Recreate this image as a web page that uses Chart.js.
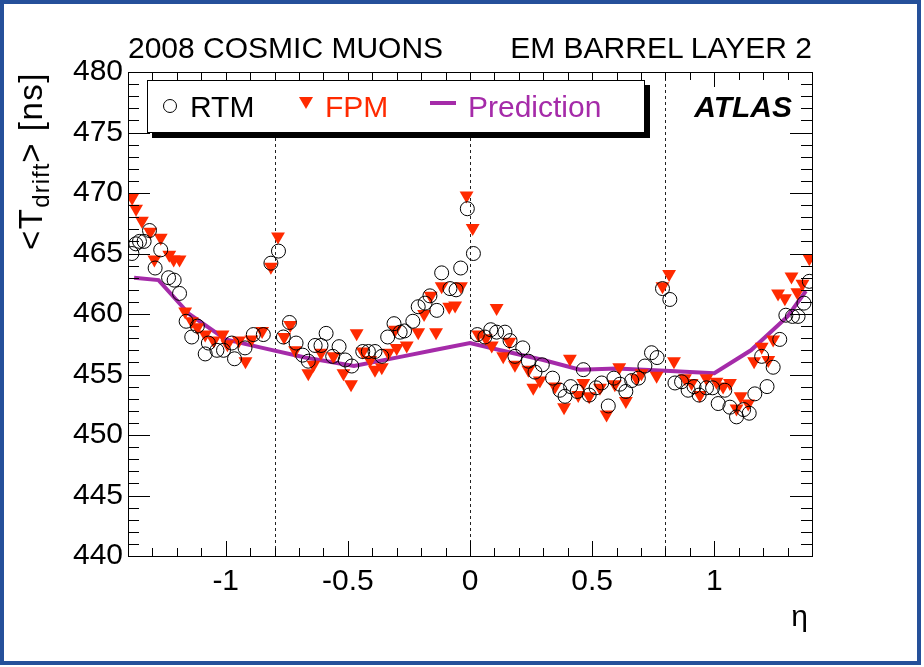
<!DOCTYPE html>
<html>
<head>
<meta charset="utf-8">
<script src="https://cdn.jsdelivr.net/npm/chart.js@4.4.1/dist/chart.umd.min.js"></script>
<style>
  html, body { margin: 0; padding: 0; background: #fff; }
  body { width: 924px; height: 667px; position: relative; overflow: hidden;
         font-family: "Liberation Sans", Arial, sans-serif; }
  #frame { position: absolute; left: 0; top: 0; width: 913px; height: 657px;
           border: 4px solid #25509a; }
  #c { position: absolute; left: 0; top: 0; }
  .txt { position: absolute; font-size: 30px; line-height: 30px; white-space: nowrap; color: #000; }
  #legend { position: absolute; left: 147px; top: 80px; width: 496px; height: 51px;
            border: 1px solid #000; background: #fff; box-shadow: 5px 5px 0 #000; }
  .mk-circle { position: absolute; width: 12px; height: 12px; border: 1px solid #000; border-radius: 50%; }
  .mk-tri { position: absolute; width: 0; height: 0; border-left: 7px solid transparent;
            border-right: 7px solid transparent; border-top: 12px solid #ff2a00; }
  .mk-line { position: absolute; height: 4px; background: #a52ba9; }
  #ytitle { position: absolute; width: 300px; height: 30px; text-align: right;
            font-size: 33px; letter-spacing: 1.5px;
            transform-origin: right center; transform: rotate(-90deg); }
  #ytitle sub { font-size: 24px; vertical-align: -7px; line-height: 0; letter-spacing: 1px; }
</style>
</head>
<body>
<div id="frame"></div>
<canvas id="c" width="924" height="667"></canvas>

<div class="txt" style="left:128px; top:33px;">2008 COSMIC MUONS</div>
<div class="txt" style="right:112px; top:33px;">EM BARREL LAYER 2</div>

<div id="legend"></div>
<div class="mk-circle" style="left:163px; top:99px;"></div>
<div class="txt" style="left:190px; top:92px;">RTM</div>
<div class="mk-tri" style="left:299px; top:97px;"></div>
<div class="txt" style="left:325px; top:92px; color:#ff2a00;">FPM</div>
<div class="mk-line" style="left:430px; top:101px; width:26px;"></div>
<div class="txt" style="left:468px; top:92px; color:#a52ba9;">Prediction</div>
<div class="txt" style="right:132px; top:92px; font-weight:bold; font-style:italic;">ATLAS</div>

<div class="txt" id="ytitle" style="left:-269px; top:57px;">&lt;T<sub>drift</sub>&gt; [ns]</div>
<div class="txt" style="right:116px; top:601px;">η</div>

<script>
// RTM: mean drift time per eta bin
const rtmEta = [
  -1.384, -1.368, -1.353, -1.334, -1.312, -1.289, -1.266, -1.234, -1.211, -1.189,
  -1.162, -1.139, -1.116, -1.084, -1.071, -1.036, -1.009, -0.975, -0.964, -0.921,
  -0.887, -0.846, -0.815, -0.784, -0.764, -0.739, -0.712, -0.685, -0.662, -0.634,
  -0.610, -0.589, -0.562, -0.536, -0.511, -0.484, -0.439, -0.416, -0.389, -0.361,
  -0.337, -0.311, -0.286, -0.268, -0.234, -0.212, -0.184, -0.164, -0.136, -0.116,
  -0.082, -0.057, -0.038, -0.011, 0.014, 0.030, 0.061, 0.085, 0.109, 0.143,
  0.164, 0.184, 0.216, 0.239, 0.266, 0.296, 0.338, 0.368, 0.389, 0.412,
  0.439, 0.464, 0.488, 0.516, 0.539, 0.566, 0.589, 0.614, 0.638, 0.662,
  0.689, 0.716, 0.743, 0.766, 0.788, 0.818, 0.839, 0.866, 0.893, 0.917,
  0.938, 0.968, 0.993, 1.016, 1.043, 1.064, 1.091, 1.120, 1.143, 1.166,
  1.194, 1.216, 1.241, 1.268, 1.293, 1.320, 1.343, 1.367, 1.389
];
const rtmT = [
  465.0, 465.8, 466.0, 466.0, 466.9, 463.8, 465.3, 463.0, 462.8, 461.7,
  459.4, 458.1, 459.0, 456.7, 457.6, 457.0, 457.0, 457.6, 456.3, 457.2,
  458.3, 458.3, 464.2, 465.2, 458.1, 459.3, 457.6, 456.6, 456.1, 457.4,
  457.4, 458.4, 456.5, 457.3, 456.2, 455.7, 456.9, 456.9, 456.9, 456.5,
  458.1, 459.2, 458.5, 458.6, 459.4, 460.6, 460.9, 461.5, 460.3, 463.4,
  462.1, 462.0, 463.8, 468.7, 465.0, 458.3, 458.1, 458.7, 458.5, 458.5,
  457.8, 456.5, 457.2, 456.1, 455.2, 455.8, 454.7, 453.7, 453.2, 454.0,
  453.6, 455.4, 453.3, 453.9, 454.3, 452.4, 454.7, 454.2, 453.6, 454.5,
  454.7, 455.7, 456.8, 456.4, 462.1, 461.2, 454.3, 454.4, 453.7, 454.0,
  453.3, 453.9, 453.9, 452.6, 453.7, 452.3, 451.5, 452.1, 451.8, 453.4,
  456.5, 454.0, 455.6, 457.9, 459.9, 459.8, 459.8, 460.9, 462.7
];

// FPM: mean drift time per eta bin
const fpmEta = [
  -1.383, -1.367, -1.343, -1.309, -1.292, -1.266, -1.231, -1.213, -1.189, -1.166,
  -1.139, -1.116, -1.084, -1.049, -1.013, -0.993, -0.946, -0.919, -0.895, -0.851,
  -0.815, -0.786, -0.761, -0.736, -0.716, -0.662, -0.641, -0.610, -0.559, -0.518,
  -0.487, -0.464, -0.439, -0.409, -0.389, -0.361, -0.334, -0.307, -0.300, -0.259,
  -0.212, -0.188, -0.161, -0.139, -0.116, -0.085, -0.061, -0.037, -0.014, 0.011,
  0.034, 0.065, 0.089, 0.109, 0.136, 0.161, 0.184, 0.239, 0.259, 0.286,
  0.348, 0.385, 0.409, 0.443, 0.464, 0.488, 0.532, 0.559, 0.593, 0.611,
  0.638, 0.682, 0.702, 0.764, 0.788, 0.815, 0.835, 0.880, 0.907, 0.941,
  0.968, 1.009, 1.036, 1.064, 1.091, 1.108, 1.139, 1.163, 1.194, 1.221,
  1.241, 1.261, 1.289, 1.316, 1.340, 1.361, 1.389
];
const fpmT = [
  469.6, 468.7, 467.7, 466.8, 464.5, 466.3, 464.9, 464.5, 464.5, 460.2,
  459.4, 458.9, 458.3, 457.8, 458.3, 457.5, 457.8, 456.1, 457.9, 458.6,
  463.9, 466.4, 458.1, 459.1, 457.0, 455.1, 455.8, 456.8, 456.5, 455.1,
  454.2, 458.4, 456.9, 456.2, 455.4, 455.6, 456.8, 458.7, 457.2, 457.4,
  458.5, 460.0, 461.5, 458.5, 462.3, 460.6, 460.7, 462.3, 469.8, 467.1,
  458.3, 458.0, 457.4, 460.5, 456.5, 457.7, 455.8, 455.4, 453.9, 454.5,
  454.0, 452.3, 456.3, 453.3, 454.3, 453.2, 453.9, 451.7, 454.2, 455.6,
  452.8, 454.7, 455.1, 454.9, 462.3, 463.3, 456.1, 454.7, 454.3, 453.3,
  454.7, 454.4, 454.0, 454.3, 452.2, 453.2, 452.6, 456.1, 457.3, 456.2,
  457.9, 461.7, 461.3, 463.1, 461.8, 462.5, 464.6
];

// Prediction curve
const predEta = [-1.375, -1.275, -1.15, -1.0, -0.85, -0.675, -0.475, -0.275, -0.15, 0.0,
                 0.125, 0.3, 0.45, 0.6, 0.8, 1.0, 1.15, 1.3, 1.375];
const predT = [463.0, 462.8, 460.0, 457.9, 457.2, 456.4, 455.7, 456.5, 457.0, 457.6,
               457.0, 456.2, 455.4, 455.5, 455.3, 455.1, 457.0, 459.8, 461.9];

// boundaries between barrel sections, drawn dashed
const sectionEdges = [-0.8, 0, 0.8];

const FONT = '"Liberation Sans", Arial, sans-serif';
const RED = '#ff2a00';
const PURPLE = '#a52ba9';

function points(xs, ys) {
    return xs.map((x, i) => ({ x: x, y: ys[i] }));
}

function isMultiple(v, step) {
    const r = v / step;
    return Math.abs(r - Math.round(r)) < 1e-6;
}

// ROOT-style frame with inward ticks on all four sides, plus dashed section lines
const rootFrame = {
    id: 'rootFrame',
    beforeDatasetsDraw(chart) {
        const { ctx, chartArea: a, scales: { x } } = chart;
        ctx.save();
        ctx.strokeStyle = '#222';
        ctx.lineWidth = 1;
        ctx.setLineDash([3, 3]);
        sectionEdges.forEach(v => {
            const px = Math.round(x.getPixelForValue(v)) + 0.5;
            ctx.beginPath();
            ctx.moveTo(px, a.top);
            ctx.lineTo(px, a.bottom);
            ctx.stroke();
        });
        ctx.restore();
    },
    afterDatasetsDraw(chart) {
        const { ctx, chartArea: a, scales: { x, y } } = chart;
        ctx.save();
        ctx.strokeStyle = '#000';
        ctx.lineWidth = 1;
        ctx.beginPath();
        x.ticks.forEach(t => {
            const px = Math.round(x.getPixelForValue(t.value)) + 0.5;
            const len = isMultiple(t.value, 0.5) ? 15 : 8;
            ctx.moveTo(px, a.bottom);
            ctx.lineTo(px, a.bottom - len);
            ctx.moveTo(px, a.top);
            ctx.lineTo(px, a.top + len);
        });
        y.ticks.forEach(t => {
            const py = Math.round(y.getPixelForValue(t.value)) + 0.5;
            const len = isMultiple(t.value, 5) ? 22 : 11;
            ctx.moveTo(a.left, py);
            ctx.lineTo(a.left + len, py);
            ctx.moveTo(a.right, py);
            ctx.lineTo(a.right - len, py);
        });
        ctx.stroke();
        ctx.strokeRect(Math.round(a.left) + 0.5, Math.round(a.top) + 0.5,
                       Math.round(a.right - a.left), Math.round(a.bottom - a.top));
        ctx.restore();
    }
};

new Chart(document.getElementById('c'), {
    type: 'scatter',
    data: {
        datasets: [
            {
                label: 'RTM',
                data: points(rtmEta, rtmT),
                pointStyle: 'circle',
                pointRadius: 7,
                borderColor: '#000',
                backgroundColor: 'rgba(0,0,0,0)',
                borderWidth: 1,
                order: 1
            },
            {
                label: 'FPM',
                data: points(fpmEta, fpmT),
                pointStyle: 'triangle',
                rotation: 180,
                pointRadius: 8,
                borderColor: RED,
                backgroundColor: RED,
                borderWidth: 0,
                order: 2
            },
            {
                type: 'line',
                label: 'Prediction',
                data: points(predEta, predT),
                borderColor: PURPLE,
                borderWidth: 4,
                pointRadius: 0,
                fill: false,
                tension: 0,
                order: 3
            }
        ]
    },
    options: {
        responsive: false,
        animation: false,
        events: [],
        layout: { padding: { left: 0, top: 72, right: 112, bottom: 0 } },
        plugins: {
            legend: { display: false },
            tooltip: { enabled: false }
        },
        scales: {
            x: {
                type: 'linear',
                min: -1.4,
                max: 1.4,
                afterFit: s => { s.height = 111; },
                grid: { display: false, drawTicks: false },
                border: { display: false },
                ticks: {
                    stepSize: 0.1,
                    autoSkip: false,
                    maxRotation: 0,
                    padding: 8,
                    color: '#000',
                    font: { family: FONT, size: 30 },
                    callback: v => isMultiple(v, 0.5) ? String(Math.round(v * 2) / 2) : ''
                }
            },
            y: {
                type: 'linear',
                min: 440,
                max: 480,
                afterFit: s => { s.width = 128; },
                grid: { display: false, drawTicks: false },
                border: { display: false },
                ticks: {
                    stepSize: 1,
                    autoSkip: false,
                    padding: 5,
                    color: '#000',
                    font: { family: FONT, size: 30 },
                    callback: v => isMultiple(v, 5) ? String(v) : ''
                }
            }
        }
    },
    plugins: [rootFrame]
});
</script>
</body>
</html>
